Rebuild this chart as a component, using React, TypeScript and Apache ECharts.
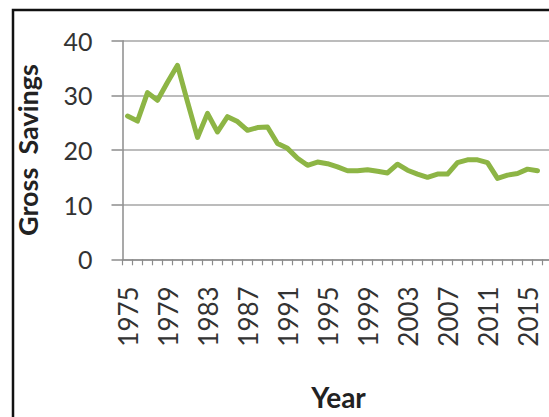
import React, { useEffect, useRef } from "react";
import * as echarts from "echarts";

// Years on the category axis (the last year has no observation yet)
const years: string[] = [
  "1975", "1976", "1977", "1978", "1979", "1980", "1981", "1982", "1983", "1984",
  "1985", "1986", "1987", "1988", "1989", "1990", "1991", "1992", "1993", "1994",
  "1995", "1996", "1997", "1998", "1999", "2000", "2001", "2002", "2003", "2004",
  "2005", "2006", "2007", "2008", "2009", "2010", "2011", "2012", "2013", "2014",
  "2015", "2016", "2017",
];

// Gross savings (% of GDP) per year
const grossSavings: (number | null)[] = [
  26.2, 25.3, 30.5, 29.1, 32.4, 35.5, 28.8, 22.3, 26.7, 23.3,
  26.1, 25.2, 23.6, 24.1, 24.2, 21.2, 20.3, 18.5, 17.2, 17.8,
  17.5, 16.9, 16.2, 16.2, 16.4, 16.1, 15.8, 17.4, 16.3, 15.6,
  15.0, 15.6, 15.6, 17.7, 18.2, 18.2, 17.7, 14.8, 15.4, 15.7,
  16.5, 16.2, null,
];

const yMin = 0;
const yMax = 40;
const yStep = 10;

const FONT = "Lato, 'Open Sans', sans-serif";

export default function App() {
  const ref = useRef<HTMLDivElement>(null);

  useEffect(() => {
    if (!ref.current) return;
    const chart = echarts.init(ref.current, null, { renderer: "svg" });
    chart.setOption({
      animation: false,
      backgroundColor: "#ffffff",
      grid: {
        left: 122.5,
        top: 40.7,
        width: 430,
        height: 218.6,
        outerBoundsMode: "none",
      },
      xAxis: {
        type: "category",
        data: years,
        boundaryGap: true,
        axisLine: { show: true, lineStyle: { color: "#8c8c8c", width: 1.5 } },
        axisTick: {
          show: true,
          interval: 0,
          length: 6,
          lineStyle: { color: "#8c8c8c", width: 1.2 },
        },
        axisLabel: {
          interval: 3,
          rotate: 90,
          margin: 27,
          fontFamily: FONT,
          fontSize: 26,
          color: "#333333",
        },
        splitLine: { show: false },
      },
      yAxis: {
        type: "value",
        min: yMin,
        max: yMax,
        interval: yStep,
        axisLine: { show: true, lineStyle: { color: "#8c8c8c", width: 1.5 } },
        axisTick: {
          show: true,
          length: 11,
          lineStyle: { color: "#8c8c8c", width: 1.5 },
        },
        axisLabel: {
          margin: 30,
          fontFamily: FONT,
          fontSize: 25,
          color: "#333333",
        },
        splitLine: { show: true, lineStyle: { color: "#a6a6a6", width: 1.5 } },
      },
      series: [
        {
          type: "line",
          data: grossSavings,
          showSymbol: false,
          symbol: "none",
          lineStyle: { color: "#8db545", width: 5, cap: "round", join: "round" },
          itemStyle: { color: "#8db545" },
        },
      ],
      graphic: [
        {
          type: "rect",
          shape: { x: 13, y: 10, width: 600, height: 500 },
          style: { fill: "none", stroke: "#111111", lineWidth: 2.5 },
          silent: true,
        },
        {
          type: "text",
          x: 27,
          y: 150,
          rotation: Math.PI / 2,
          style: {
            text: "Gross  Savings",
            align: "center",
            verticalAlign: "middle",
            fontFamily: FONT,
            fontWeight: "bold",
            fontSize: 27,
            fill: "#222222",
          },
        },
        {
          type: "text",
          x: 338.5,
          y: 397,
          style: {
            text: "Year",
            align: "center",
            verticalAlign: "middle",
            fontFamily: FONT,
            fontWeight: "bold",
            fontSize: 28,
            fill: "#222222",
          },
        },
      ],
    });
    return () => chart.dispose();
  }, []);

  return (
    <div
      style={{
        position: "fixed",
        left: 0,
        top: 0,
        width: 549,
        height: 417,
        overflow: "hidden",
        background: "#ffffff",
      }}
    >
      <div ref={ref} style={{ width: 560, height: 417 }} />
    </div>
  );
}
